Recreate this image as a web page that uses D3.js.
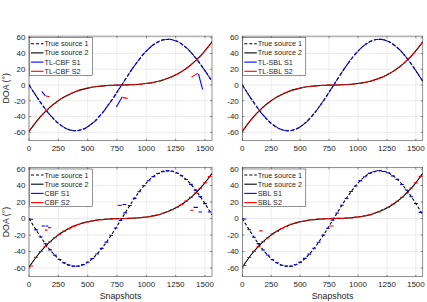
<!DOCTYPE html>
<html><head><meta charset="utf-8">
<script src="https://cdn.jsdelivr.net/npm/d3@7"></script>
<style>
body{margin:0;background:#fff}
svg{display:block}
text{font-family:"Liberation Sans",Arial,Helvetica,sans-serif;fill:#262626}
</style>
</head><body>
<svg id="c" width="427" height="302"></svg>
<script>
// ---------------- data ----------------
const snapshots = [0,40,80,120,160,200,240,280,320,360,400,440,480,520,560,600,640,680,720,760,800,840,880,920,960,1000,1040,1080,1120,1160,1200,1240,1280,1320,1360,1400,1440,1480,1520,1560];
const trueSource1 = [0,-9.2,-18.1,-26.6,-34.5,-41.4,-47.3,-52.0,-55.4,-57.4,-58.0,-57.1,-54.7,-51.0,-46.0,-39.8,-32.6,-24.5,-16.0,-6.9,2.3,11.5,20.3,28.7,36.3,43.0,48.6,53.0,56.1,57.7,57.9,56.6,53.9,49.9,44.6,38.1,30.6,22.5,13.7,4.6];
const trueSource2 = [-59,-50.8,-43.3,-36.7,-30.8,-25.6,-21.0,-17.0,-13.6,-10.7,-8.2,-6.2,-4.6,-3.3,-2.3,-1.5,-1.0,-0.6,-0.3,-0.1,0.0,0.2,0.4,0.7,1.2,1.9,2.7,3.9,5.3,7.2,9.4,12.1,15.2,18.9,23.2,28.1,33.7,39.9,47.0,54.8];

// TL methods: tracked estimates at each snapshot sample
const tlcbfS1 = [0,-9.0,-18.3,-26.4,-34.7,-41.2,-47.5,-51.8,-55.6,-57.2,-58.1,-56.9,-54.9,-50.8,-46.2,-39.6,-32.8,-24.3,-16.2,-6.7,2.5,11.3,20.5,28.5,36.5,42.8,48.8,52.8,56.3,57.5,58.0,56.4,54.1,49.7,44.8,37.9,30.8,22.3,13.9,4.8];
const tlcbfS2 = [-59,-50.6,-43.5,-36.5,-31.0,-25.4,-21.2,-16.8,-13.8,-10.5,-8.4,-6.0,-4.8,-3.1,-2.5,-1.3,-1.2,-0.4,-0.5,0.1,-0.2,0.4,0.2,0.9,1.0,2.1,2.5,4.1,5.1,7.4,9.2,12.3,15.0,19.1,23.0,28.3,33.5,40.1,46.8,55.0];
const tlsblS1 = [0,-9.1,-18.2,-26.5,-34.6,-41.3,-47.4,-51.9,-55.5,-57.3,-58.0,-57.0,-54.8,-50.9,-46.1,-39.7,-32.7,-24.4,-16.1,-6.8,2.4,11.4,20.4,28.6,36.4,42.9,48.7,52.9,56.2,57.6,57.9,56.5,54.0,49.8,44.7,38.0,30.7,22.4,13.8,4.7];
const tlsblS2 = [-58.8,-50.7,-43.4,-36.6,-30.9,-25.5,-21.1,-16.9,-13.7,-10.6,-8.3,-6.1,-4.7,-3.2,-2.4,-1.4,-1.1,-0.5,-0.4,0.0,-0.1,0.3,0.3,0.8,1.1,2.0,2.6,4.0,5.2,7.3,9.3,12.2,15.1,19.0,23.1,28.2,33.6,40.0,46.9,54.9];
// spurious TL-CBF estimates near the crossings: [snapshot0, doa0, snapshot1, doa1]
const tlcbfS1Extra = [[110,-8,140,-14],[745,-28,795,-15],[1445,14,1480,-6]];
const tlcbfS2Extra = [[145,-14,175,-15],[800,-16,840,-17],[1385,10,1440,15]];

// block estimates (one per 40-snapshot block)
const blockStart = [0,40,80,120,160,200,240,280,320,360,400,440,480,520,560,600,640,680,720,760,800,840,880,920,960,1000,1040,1080,1120,1160,1200,1240,1280,1320,1360,1400,1440,1480,1520];
const cbfS1 = [-0.8,-13.7,-22.4,-30.6,-38.0,-44.4,-49.7,-53.7,-56.4,-57.7,-57.6,-55.9,-52.9,-48.5,-42.9,-36.2,-28.6,-20.3,-11.5,-2.3,6.9,15.9,24.5,32.5,39.7,45.8,50.8,54.6,56.9,57.8,57.3,55.3,51.9,47.3,41.4,34.4,26.6,18.1,8.0];
const cbfS2 = [-57.5,-47.1,-40.0,-33.8,-28.2,-23.3,-19.0,-15.3,-12.2,-9.5,-7.2,-5.4,-4.0,-2.8,-1.9,-1.3,-0.8,-0.5,-0.2,0.0,0.1,0.3,0.6,1.0,1.6,2.3,3.3,4.6,6.3,8.3,10.8,13.7,17.1,21.1,25.7,30.9,36.8,43.5,50.9];
const sblS1 = [-0.5,-13.5,-22.6,-30.4,-38.2,-44.2,-49.9,-53.5,-56.6,-57.5,-57.8,-55.7,-53.1,-48.3,-43.1,-36.0,-28.8,-20.1,-11.7,-2.1,6.7,16.1,24.3,32.7,39.5,46.0,50.6,54.8,56.7,58.0,57.1,55.5,51.7,47.5,41.2,34.6,26.4,18.3,7.5];
const sblS2 = [-57.0,-47.3,-39.8,-34.0,-28.0,-23.5,-18.8,-15.5,-12.0,-9.7,-7.0,-5.6,-3.8,-3.0,-1.7,-1.5,-0.6,-0.7,0.0,0.2,0.3,0.1,0.8,0.8,1.8,2.1,3.5,4.4,6.5,8.1,11.0,13.5,17.3,20.9,25.9,30.7,37.0,43.3,51.1];
// spurious block estimates: [snapshot0, snapshot1, doa]
const cbfS1Extra = [[107,135,-9],[140,165,-9],[797,830,17],[1403,1440,13.5],[1445,1475,8]];
const cbfS2Extra = [[135,158,-14],[162,190,-11],[755,792,16],[1375,1403,10]];
const sblS1Extra = [];
const sblS2Extra = [[147,175,-15],[752,789,-9]];

const xTicks = [0,250,500,750,1000,1250,1500];
const yTicks = [-60,-40,-20,0,20,40,60];
const xDomain = [0,1560];
const yDomain = [-70.5,62];
const trueNames = ["True source 1","True source 2"];

// ---------------- drawing ----------------
const svg = d3.select("#c");
const BLUE = "#0000ff", RED = "#ff0000", AX = "#262626";

const panels = [
  {id:"p1", x0:29, x1:212, y0:36.1, y1:140.6, names:["TL-CBF S1","TL-CBF S2"], kind:"track", s1:tlcbfS1, s2:tlcbfS2, e1:tlcbfS1Extra, e2:tlcbfS2Extra, yl:true, xl:false},
  {id:"p2", x0:242.3, x1:422.8, y0:36.1, y1:140.6, names:["TL-SBL S1","TL-SBL S2"], kind:"track", s1:tlsblS1, s2:tlsblS2, e1:[], e2:[], yl:false, xl:false},
  {id:"p3", x0:29, x1:212, y0:167.4, y1:276.7, names:["CBF S1","CBF S2"], kind:"block", s1:cbfS1, s2:cbfS2, e1:cbfS1Extra, e2:cbfS2Extra, yl:true, xl:true},
  {id:"p4", x0:242.3, x1:422.8, y0:167.4, y1:276.7, names:["SBL S1","SBL S2"], kind:"block", s1:sblS1, s2:sblS2, e1:sblS1Extra, e2:sblS2Extra, yl:false, xl:true}
];

const defs = svg.append("defs");

panels.forEach(p => {
  const x = d3.scaleLinear().domain(xDomain).range([p.x0, p.x1]);
  const y = d3.scaleLinear().domain(yDomain).range([p.y1, p.y0]);
  const g = svg.append("g");

  defs.append("clipPath").attr("id","clip-"+p.id)
    .append("rect").attr("x",p.x0).attr("y",p.y0).attr("width",p.x1-p.x0).attr("height",p.y1-p.y0);

  // background + grid
  g.append("rect").attr("x",p.x0).attr("y",p.y0).attr("width",p.x1-p.x0).attr("height",p.y1-p.y0).attr("fill","#fff");
  g.selectAll(".gx").data(xTicks).enter().append("line")
    .attr("x1",d=>x(d)).attr("x2",d=>x(d)).attr("y1",p.y0).attr("y2",p.y1)
    .attr("stroke","#dfdfdf").attr("stroke-width",0.6);
  g.selectAll(".gy").data(yTicks).enter().append("line")
    .attr("x1",p.x0).attr("x2",p.x1).attr("y1",d=>y(d)).attr("y2",d=>y(d))
    .attr("stroke","#dfdfdf").attr("stroke-width",0.6);

  const plot = g.append("g").attr("clip-path","url(#clip-"+p.id+")");
  const line = d3.line().x((d,i)=>x(snapshots[i])).y(d=>y(d)).curve(d3.curveMonotoneX);

  plot.append("path").datum(trueSource1).attr("d",line).attr("fill","none")
    .attr("stroke","#000").attr("stroke-width",1.1).attr("stroke-dasharray","3,2");
  plot.append("path").datum(trueSource2).attr("d",line).attr("fill","none")
    .attr("stroke","#000").attr("stroke-width",1.1);

  const drawSeries = (vals, extra, color) => {
    if (p.kind === "track") {
      plot.append("path").datum(vals).attr("d",line).attr("fill","none")
        .attr("stroke",color).attr("stroke-width",1.1).attr("stroke-dasharray","4.5,1.8");
      plot.selectAll(null).data(extra).enter().append("line")
        .attr("x1",d=>x(d[0])).attr("y1",d=>y(d[1])).attr("x2",d=>x(d[2])).attr("y2",d=>y(d[3]))
        .attr("stroke",color).attr("stroke-width",1.1);
    } else {
      plot.selectAll(null).data(vals).enter().append("line")
        .attr("x1",(d,i)=>x(blockStart[i]+4)).attr("x2",(d,i)=>x(blockStart[i]+36))
        .attr("y1",d=>y(d)).attr("y2",d=>y(d))
        .attr("stroke",color).attr("stroke-width",1.1);
      plot.selectAll(null).data(extra).enter().append("line")
        .attr("x1",d=>x(d[0])).attr("x2",d=>x(d[1])).attr("y1",d=>y(d[2])).attr("y2",d=>y(d[2]))
        .attr("stroke",color).attr("stroke-width",1.1);
    }
  };
  drawSeries(p.s1, p.e1, BLUE);
  drawSeries(p.s2, p.e2, RED);

  // box + ticks
  g.append("rect").attr("x",p.x0).attr("y",p.y0).attr("width",p.x1-p.x0).attr("height",p.y1-p.y0)
    .attr("fill","none").attr("stroke",AX).attr("stroke-width",0.5);
  const tl = 2;
  xTicks.forEach(t => {
    g.append("line").attr("x1",x(t)).attr("x2",x(t)).attr("y1",p.y1).attr("y2",p.y1-tl).attr("stroke",AX).attr("stroke-width",0.5);
    g.append("line").attr("x1",x(t)).attr("x2",x(t)).attr("y1",p.y0).attr("y2",p.y0+tl).attr("stroke",AX).attr("stroke-width",0.5);
  });
  yTicks.forEach(t => {
    g.append("line").attr("x1",p.x0).attr("x2",p.x0+tl).attr("y1",y(t)).attr("y2",y(t)).attr("stroke",AX).attr("stroke-width",0.5);
    g.append("line").attr("x1",p.x1).attr("x2",p.x1-tl).attr("y1",y(t)).attr("y2",y(t)).attr("stroke",AX).attr("stroke-width",0.5);
  });

  // tick labels
  g.selectAll(".xt").data(xTicks).enter().append("text")
    .attr("x",d=>x(d)).attr("y",p.y1+10).attr("text-anchor","middle")
    .attr("font-size","8px").text(d=>d);
  g.selectAll(".yt").data(yTicks).enter().append("text")
    .attr("x",p.x0-3.5).attr("y",d=>y(d)).attr("dy","0.35em").attr("text-anchor","end")
    .attr("font-size","8px").text(d=>d);

  if (p.yl) {
    g.append("text").attr("transform",`translate(${p.x0-20},${(p.y0+p.y1)/2}) rotate(-90)`)
      .attr("text-anchor","middle").attr("font-size","8.8px").text("DOA (°)");
  }
  if (p.xl) {
    g.append("text").attr("x",(p.x0+p.x1)/2).attr("y",p.y1+22).attr("text-anchor","middle")
      .attr("font-size","8.8px").text("Snapshots");
  }

  // legend
  const lx = p.x0+0.5, ly = p.y0+1.6, lw = 63, lh = 37.6;
  const lg = g.append("g");
  lg.append("rect").attr("x",lx).attr("y",ly).attr("width",lw).attr("height",lh)
    .attr("fill","#fff").attr("stroke",AX).attr("stroke-width",0.5);
  const entries = [
    {name:trueNames[0], color:"#000", dash:"3,2"},
    {name:trueNames[1], color:"#000", dash:null},
    {name:p.names[0], color:BLUE, dash:null},
    {name:p.names[1], color:RED, dash:null}
  ];
  entries.forEach((e,i) => {
    const ry = ly + 6 + 9.2*i;
    lg.append("line").attr("x1",lx+1.5).attr("x2",lx+14).attr("y1",ry).attr("y2",ry)
      .attr("stroke",e.color).attr("stroke-width",1.1).attr("stroke-dasharray",e.dash);
    lg.append("text").attr("x",lx+15).attr("y",ry).attr("dy","0.35em")
      .attr("font-size","7.2px").text(e.name);
  });
});
</script>
</body></html>
